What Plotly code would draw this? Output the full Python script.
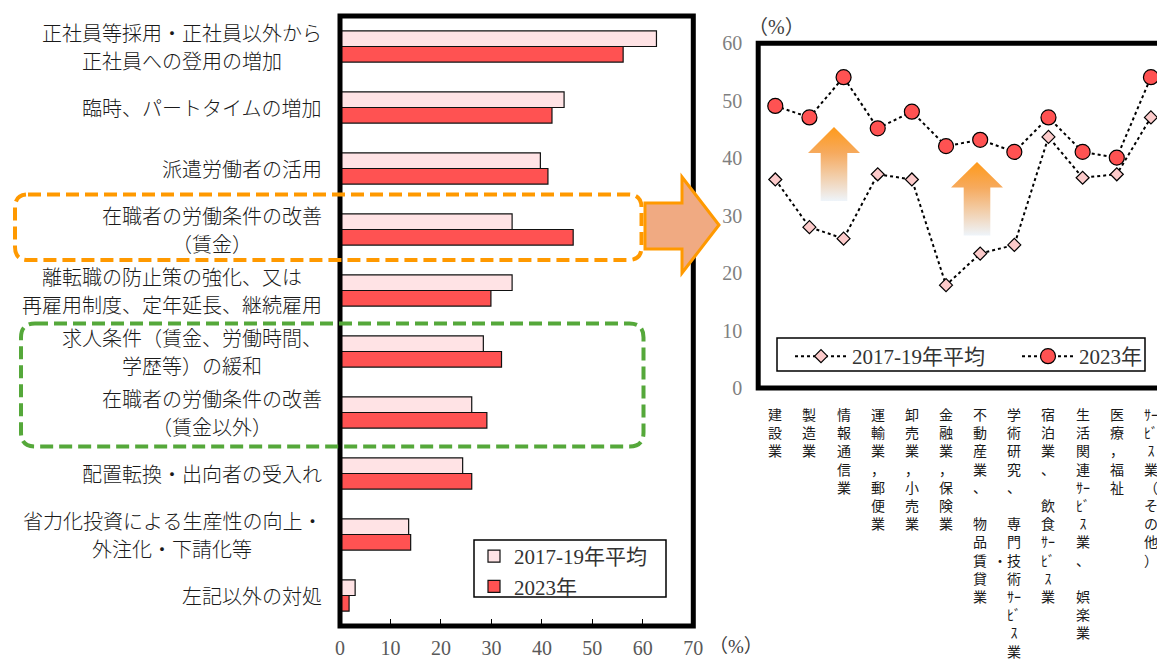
import plotly.graph_objects as go

W, H = 1157, 661

# ---- left panel: measures taken against labour shortage (%) ----
measures = [
    "正社員等採用・正社員以外から<br>正社員への登用の増加",
    "臨時、パートタイムの増加",
    "派遣労働者の活用",
    "在職者の労働条件の改善<br>（賃金）",
    "離転職の防止策の強化、又は<br>再雇用制度、定年延長、継続雇用",
    "求人条件（賃金、労働時間、<br>学歴等）の緩和",
    "在職者の労働条件の改善<br>（賃金以外）",
    "配置転換・出向者の受入れ",
    "省力化投資による生産性の向上・<br>外注化・下請化等",
    "左記以外の対処",
]
bar_avg_2017_19 = [62.7, 44.4, 39.7, 34.1, 34.1, 28.4, 26.1, 24.3, 13.6, 3.0]
bar_2023 = [56.1, 42.0, 41.2, 46.2, 29.9, 32.0, 29.1, 26.1, 14.0, 1.8]
bar_ticks = [0, 10, 20, 30, 40, 50, 60, 70]

# ---- right panel: wage improvement by industry (%) ----
industries = [
    "建設業", "製造業", "情報通信業", "運輸業，郵便業", "卸売業，小売業",
    "金融業，保険業", "不動産業、物品賃貸業", "学術研究、専門・技術ｻｰﾋﾞｽ業",
    "宿泊業、飲食ｻｰﾋﾞｽ業", "生活関連ｻｰﾋﾞｽ業、娯楽業", "医療，福祉",
    "ｻｰﾋﾞｽ業（その他）",
]
wage_avg_2017_19 = [36.3, 28.0, 26.0, 37.2, 36.3, 17.9, 23.4, 24.9, 43.7, 36.6, 37.2, 47.1]
wage_2023 = [49.1, 47.1, 54.1, 45.2, 48.1, 42.1, 43.2, 41.1, 47.1, 41.1, 40.1, 54.1]
line_ticks = [0, 10, 20, 30, 40, 50, 60]

SERIES = ["2017-19年平均", "2023年"]
LIGHT = "#FFE3E5"
RED = "#FF5252"
PINK = "#FCCACA"
ORANGE = "#FF9900"
GREEN = "#55A83A"
CJK = "Noto Sans CJK JP"
SERIF = "Liberation Serif, Noto Sans CJK JP"


def dom_x(a, b):
    return [a / W, b / W]


def dom_y(top, bottom):
    return [1 - bottom / H, 1 - top / H]


# panel frames in page pixels
L_LEFT, L_RIGHT, L_TOP, L_BOTTOM = 340, 693.3, 16, 626
R_LEFT, R_TOP, R_BOTTOM = 758.2, 43.3, 388
R_PITCH = 34.15  # pixels per industry slot

fig = go.Figure()

for name, vals, col in [(SERIES[0], bar_avg_2017_19, LIGHT), (SERIES[1], bar_2023, RED)]:
    fig.add_trace(go.Bar(
        y=list(range(len(measures))), x=vals, orientation="h", name=name,
        marker=dict(color=col, line=dict(color="#111111", width=1.2)),
        xaxis="x", yaxis="y", legend="legend", hoverinfo="x+name",
    ))

fig.add_trace(go.Scatter(
    x=list(range(len(industries))), y=wage_avg_2017_19, name=SERIES[0],
    mode="lines+markers", line=dict(color="#000000", width=2, dash="dot"),
    marker=dict(symbol="diamond", size=10, color=PINK, line=dict(color="#000000", width=1.2)),
    xaxis="x2", yaxis="y2", legend="legend2", cliponaxis=False,
))
fig.add_trace(go.Scatter(
    x=list(range(len(industries))), y=wage_2023, name=SERIES[1],
    mode="lines+markers", line=dict(color="#000000", width=2, dash="dot"),
    marker=dict(symbol="circle", size=15, color=RED, line=dict(color="#000000", width=1.2)),
    xaxis="x2", yaxis="y2", legend="legend2", cliponaxis=False,
))


# gradient up-arrows (page-pixel overlay axes)
def up_arrow(cx, top, base, bottom, head_half, body_half):
    xs = [cx, cx + head_half, cx + body_half, cx + body_half, cx - body_half, cx - body_half, cx - head_half, cx]
    ys = [top, base, base, bottom, bottom, base, base, top]
    return xs, ys


for cx, top, base, bottom in [(834, 127, 153, 201), (977, 162, 187.5, 235.5)]:
    xs, ys = up_arrow(cx, top, base, bottom, 26, 13.3)
    fig.add_trace(go.Scatter(
        x=xs, y=ys, mode="lines", fill="toself", line=dict(width=0, color="rgba(0,0,0,0)"),
        fillgradient=dict(type="vertical", start=top, stop=bottom,
                          colorscale=[[0, "#FF9A1A"], [0.35, "#F6AA5E"], [1, "#EEF4FA"]]),
        xaxis="x3", yaxis="y3", showlegend=False, hoverinfo="skip",
    ))


def rounded_rect(x0, y0, x1, y1, r):
    return (f"M{x0 + r},{y0} L{x1 - r},{y0} Q{x1},{y0} {x1},{y0 + r} "
            f"L{x1},{y1 - r} Q{x1},{y1} {x1 - r},{y1} L{x0 + r},{y1} "
            f"Q{x0},{y1} {x0},{y1 - r} L{x0},{y0 + r} Q{x0},{y0} {x0 + r},{y0} Z")


shapes = [
    dict(type="rect", xref="x domain", yref="y domain", x0=0, x1=1, y0=0, y1=1,
         line=dict(color="#000000", width=5), fillcolor="rgba(0,0,0,0)", layer="above"),
    dict(type="path", xref="x3", yref="y3",
         path=f"M{W + 5},{R_TOP} L{R_LEFT},{R_TOP} L{R_LEFT},{R_BOTTOM} L{W + 5},{R_BOTTOM}",
         line=dict(color="#000000", width=5), layer="above"),
    dict(type="path", xref="x3", yref="y3", path=rounded_rect(15, 194.5, 641.5, 260, 13),
         line=dict(color=ORANGE, width=4, dash="13px,6px"), layer="above"),
    dict(type="path", xref="x3", yref="y3", path=rounded_rect(21, 323.5, 643.5, 446.5, 14),
         line=dict(color=GREEN, width=4, dash="13px,6px"), layer="above"),
    dict(type="path", xref="x3", yref="y3",
         path="M645,203 L682,203 L682,177 L719,225 L682,273 L682,249 L645,249 Z",
         fillcolor="#F0AA82", line=dict(color=ORANGE, width=3), layer="above"),
    # legend frames
    dict(type="rect", xref="x3", yref="y3", x0=474, x1=666, y0=540, y1=597,
         fillcolor="#FFFFFF", line=dict(color="#000000", width=1.5), layer="above"),
    dict(type="rect", xref="x3", yref="y3", x0=777, x1=1145, y0=338, y1=371,
         fillcolor="#FFFFFF", line=dict(color="#000000", width=1.5), layer="above"),
]


def text_width(s, size):
    w = 0.0
    for ch in s:
        narrow = ord(ch) < 0x2E80 or 0xFF61 <= ord(ch) <= 0xFF9F
        w += size * (0.5 if narrow else 1.0)
    return w


annotations = []
# category labels of the bar panel: block right-aligned at x=322, lines centred
LABEL_SIZE = 20
LABEL_LINE = 28
LABEL_RIGHT = 322
for i, label in enumerate(measures):
    parts = label.split("<br>")
    n = len(parts)
    block_w = max(text_width(p, LABEL_SIZE) for p in parts)
    cx = LABEL_RIGHT - block_w / 2
    for k, part in enumerate(parts):
        annotations.append(dict(
            x=cx, xref="x3", y=i, yref="y", text=part, showarrow=False,
            xanchor="center", yanchor="middle",
            yshift=-(k - (n - 1) / 2) * LABEL_LINE,
            font=dict(family=CJK, size=LABEL_SIZE, color="#1a1a1a", weight=300),
        ))

annotations.append(dict(x=736, xref="x3", y=646, yref="y3", text="（%）", showarrow=False,
                        font=dict(family=SERIF, size=19, color="#404040")))
annotations.append(dict(x=776, xref="x3", y=27, yref="y3", text="（%）", showarrow=False,
                        font=dict(family=SERIF, size=20, color="#404040")))

# vertical industry names: one line per character, half-width kana paired,
# the ideographic comma followed by an empty cell, the middle dot set
# beside the character after it
HALF_WIDTH = {chr(c) for c in range(0xFF61, 0xFFA0)}


def vertical_text(name):
    lines, half, dot = [], "", False
    for ch in name:
        if ch in HALF_WIDTH:
            half += ch
            if len(half) == 2:
                lines.append(half)
                half = ""
            continue
        if half:
            lines.append(half)
            half = ""
        if ch == "・":
            dot = True
            continue
        if dot:
            lines.append("・" + ch + "\u3000")
            dot = False
        else:
            lines.append(ch)
        if ch == "、":
            lines.append("")
    if half:
        lines.append(half)
    return "<br>".join(lines)


for i, name in enumerate(industries):
    annotations.append(dict(
        x=i, xref="x2", y=402, yref="y3", text=vertical_text(name), showarrow=False,
        xanchor="center", yanchor="top", align="center",
        font=dict(family=CJK, size=14, color="#1a1a1a"),
    ))

fig.update_layout(
    width=W, height=H, margin=dict(l=0, r=0, t=0, b=0, autoexpand=False),
    paper_bgcolor="#FFFFFF", plot_bgcolor="rgba(0,0,0,0)",
    barmode="group", bargap=0.49, bargroupgap=0,
    xaxis=dict(domain=dom_x(L_LEFT, L_RIGHT), range=[0, 70], tickvals=bar_ticks,
               ticks="inside", ticklen=7, tickwidth=1.2, tickcolor="#000000",
               showgrid=False, zeroline=False, showline=False, anchor="y", automargin=False,
               tickfont=dict(family=SERIF, size=20, color="#595959"), ticklabelstandoff=8),
    yaxis=dict(domain=dom_y(L_TOP, L_BOTTOM), range=[len(measures) - 0.5, -0.5],
               showticklabels=False, showgrid=False, zeroline=False, ticks="", anchor="x",
               automargin=False),
    xaxis2=dict(domain=dom_x(R_LEFT, W), range=[-0.5, -0.5 + (W - R_LEFT) / R_PITCH],
                showticklabels=False, showgrid=False, zeroline=False, ticks="", anchor="y2",
                automargin=False),
    yaxis2=dict(domain=dom_y(R_TOP, R_BOTTOM), range=[0, 60], tickvals=line_ticks,
                showgrid=False, zeroline=False, ticks="", anchor="x2", automargin=False,
                tickfont=dict(family=SERIF, size=20, color="#7f7f7f"), ticklabelstandoff=15),
    xaxis3=dict(domain=[0, 1], range=[0, W], visible=False, anchor="y3", fixedrange=True,
                automargin=False),
    yaxis3=dict(domain=[0, 1], range=[H, 0], visible=False, anchor="x3", fixedrange=True,
                automargin=False),
    legend=dict(x=474 / W, y=1 - 536 / H, xanchor="left", yanchor="top",
                borderwidth=0, bgcolor="rgba(0,0,0,0)",
                font=dict(family=SERIF, size=21, color="#333333"),
                itemwidth=30, tracegroupgap=0),
    legend2=dict(orientation="h", x=790 / W, y=1 - 336 / H, xanchor="left", yanchor="top",
                 borderwidth=0, bgcolor="rgba(0,0,0,0)",
                 font=dict(family=SERIF, size=21, color="#333333"), itemwidth=52,
                 entrywidth=160),
    shapes=shapes, annotations=annotations, showlegend=True,
)

fig.write_html("out.html", post_script="document.body.style.margin='0px';")
